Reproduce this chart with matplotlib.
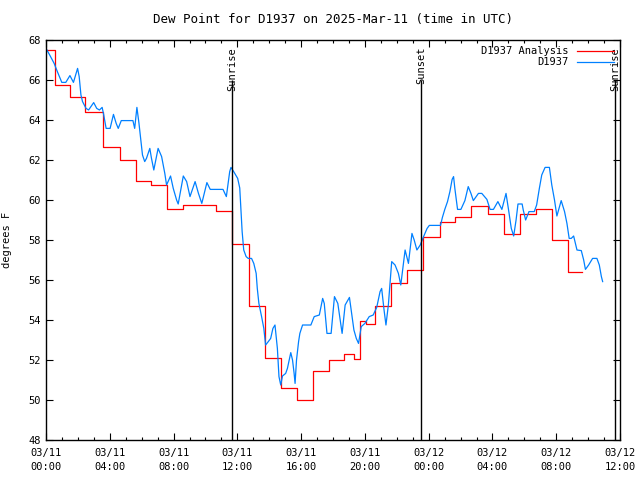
import pandas as pd
import matplotlib
matplotlib.use("Agg")
import matplotlib.pyplot as plt
import matplotlib.dates as mdates

# hours after 2025-03-11 00:00 UTC
red_hours = [0.0, 0.54, 1.52, 2.46, 3.60, 4.64, 5.65, 6.57, 7.58, 8.62, 10.64,
             11.65, 12.70, 13.71, 14.72, 15.73, 16.74, 17.76, 18.70, 19.30, 19.71,
             20.06, 20.63, 21.64, 22.65, 23.66, 24.72, 25.68, 26.65, 27.73, 28.74,
             29.70, 30.70, 31.71, 32.72, 33.63]
red_vals = [67.5, 65.75, 65.17, 64.42, 62.63, 62.0, 60.97, 60.73, 59.55, 59.73, 59.47,
            57.8, 54.7, 52.08, 50.58, 50.0, 51.45, 51.98, 52.28, 52.03, 53.95,
            53.8, 54.72, 55.83, 56.5, 58.13, 58.92, 59.13, 59.68, 59.28, 58.28,
            59.28, 59.53, 58.0, 56.38, 56.38]

blue_hours = [0.0, 0.23, 0.51, 0.71, 0.99, 1.24, 1.50, 1.72, 1.98, 2.08, 2.19, 2.29,
              2.51, 2.67, 2.82, 2.99, 3.18, 3.35, 3.52, 3.62, 3.77, 4.02, 4.23, 4.40,
              4.53, 4.72, 5.45, 5.56, 5.70, 5.83, 5.92, 6.05, 6.19, 6.30, 6.51, 6.61,
              6.76, 7.03, 7.25, 7.45, 7.56, 7.81, 7.98, 8.19, 8.29, 8.61, 8.82, 9.03,
              9.35, 9.56, 9.77, 10.09, 10.30, 11.10, 11.31, 11.52, 11.60, 11.77, 12.02,
              12.15, 12.30, 12.40, 12.55, 12.68, 12.89, 13.03, 13.18, 13.25, 13.35,
              13.52, 13.66, 13.77, 13.94, 14.09, 14.23, 14.36, 14.51, 14.61, 14.72,
              14.83, 15.03, 15.14, 15.35, 15.46, 15.56, 15.62, 15.71, 15.84, 15.92,
              16.09, 16.61, 16.82, 17.14, 17.35, 17.45, 17.62, 17.88, 18.09, 18.30,
              18.57, 18.76, 19.03, 19.31, 19.46, 19.60, 19.77, 20.00, 20.27, 20.52,
              20.74, 20.95, 21.05, 21.20, 21.32, 21.47, 21.68, 21.89, 22.10, 22.25,
              22.52, 22.73, 22.95, 23.09, 23.26, 23.47, 23.68, 23.90, 24.04, 24.74,
              24.86, 25.01, 25.18, 25.33, 25.47, 25.56, 25.64, 25.81, 26.02, 26.27,
              26.48, 26.65, 26.80, 27.12, 27.33, 27.65, 27.85, 28.06, 28.34, 28.59,
              28.85, 29.01, 29.18, 29.33, 29.48, 29.60, 29.86, 29.93, 30.08, 30.29,
              30.62, 30.77, 30.94, 31.09, 31.30, 31.57, 31.72, 31.89, 32.04, 32.31,
              32.52, 32.67, 32.81, 32.94, 33.09, 33.30, 33.57, 33.72, 33.83, 34.03,
              34.28, 34.55, 34.70, 34.83, 34.91]
blue_vals = [67.58, 67.25, 66.83, 66.42, 65.88, 65.88, 66.22, 65.88, 66.58, 66.17, 65.25, 64.92,
             64.58, 64.5, 64.67, 64.87, 64.58, 64.5, 64.63, 64.25, 63.58, 63.58, 64.28, 63.83,
             63.58, 63.97, 63.97, 63.58, 64.63, 63.83, 63.17, 62.25, 61.92, 62.08, 62.58, 62.1,
             61.5, 62.58, 62.17, 61.33, 60.75, 61.2, 60.58, 60.0, 59.8, 61.2, 60.92, 60.17,
             60.92, 60.33, 59.83, 60.87, 60.53, 60.53, 60.17, 61.42, 61.63, 61.42, 61.08,
             60.6, 58.42, 57.5, 57.17, 57.08, 57.08, 56.83, 56.33, 55.58, 54.83,
             54.17, 53.58, 52.75, 52.92, 53.08, 53.58, 53.75, 52.58, 51.17, 50.75,
             51.2, 51.33, 51.58, 52.37, 52.0, 51.33, 50.83, 52.0, 52.92, 53.33,
             53.75, 53.75, 54.17, 54.25, 55.08, 54.83, 53.33, 53.33, 55.17, 54.83,
             53.33, 54.75, 55.13, 53.5, 53.08, 52.83, 53.67, 53.83, 54.17, 54.25,
             54.63, 55.42, 55.58, 54.5, 53.75, 54.75, 56.92, 56.75, 56.33, 55.75,
             57.5, 56.83, 58.33, 58.0, 57.5, 57.75, 58.17, 58.58, 58.73, 58.73,
             59.13, 59.53, 59.92, 60.42, 61.03, 61.17, 60.58, 59.53, 59.53, 59.97,
             60.67, 60.33, 59.97, 60.33, 60.33, 60.03, 59.53, 59.53, 59.92, 59.53,
             60.33, 59.5, 58.58, 58.2, 59.0, 59.8, 59.8, 59.5, 59.0, 59.42,
             59.42, 59.75, 60.58, 61.25, 61.63, 61.63, 60.75, 60.0, 59.2, 59.97,
             59.42, 58.83, 58.08, 58.08, 58.2, 57.5, 57.47, 57.0, 56.53, 56.75,
             57.08, 57.08, 56.75, 56.17, 55.92]

sun_hours = [11.69, 23.53, 35.70]
sun_labels = ["Sunrise", "Sunset", "Sunrise"]

start = pd.Timestamp("2025-03-11 00:00")
red_t = start + pd.to_timedelta(red_hours, unit="h")
blue_t = start + pd.to_timedelta(blue_hours, unit="h")
sun_t = start + pd.to_timedelta(sun_hours, unit="h")

plt.rcParams['font.family'] = 'DejaVu Sans Mono'
plt.rcParams['font.size'] = 7.5

fig = plt.figure(figsize=(6.4, 4.8), dpi=100)
ax = fig.add_axes([0.0719, 0.0833, 0.8969, 0.8334])

ax.plot(red_t, red_vals, color='#ff0000', lw=0.9, drawstyle='steps-post', label='D1937 Analysis')
ax.plot(blue_t, blue_vals, color='#0080ff', lw=0.9, label='D1937')

for t, lab in zip(sun_t, sun_labels):
    ax.vlines(t, 48, 66.0, color='black', lw=1.0)
    ax.text(t, 67.65, lab, rotation=90, ha='center', va='top')

ax.set_xlim(start, start + pd.Timedelta(hours=36))
ax.set_ylim(48, 68)
ax.set_yticks(range(48, 69, 2))
ax.xaxis.set_major_locator(mdates.HourLocator(byhour=[0, 4, 8, 12, 16, 20]))
ax.xaxis.set_minor_locator(mdates.HourLocator())
ax.xaxis.set_major_formatter(mdates.DateFormatter('%m/%d\n%H:%M'))
ax.tick_params(direction='in', top=True, right=True, length=5, width=0.8)
ax.tick_params(which='minor', direction='in', top=True, length=2.5, width=0.8)
ax.tick_params(axis='x', pad=6)
for lbl in ax.get_xticklabels():
    lbl.set_linespacing(1.5)
for s in ax.spines.values():
    s.set_linewidth(1.0)

ax.set_ylabel('degrees F', labelpad=12)
ax.set_title('Dew Point for D1937 on 2025-Mar-11 (time in UTC)', pad=12)
ax.legend(loc='upper right', frameon=False, markerfirst=False, handlelength=3.5,
          borderaxespad=0.2, labelspacing=0.1)

fig.savefig('out.png', dpi=100)
